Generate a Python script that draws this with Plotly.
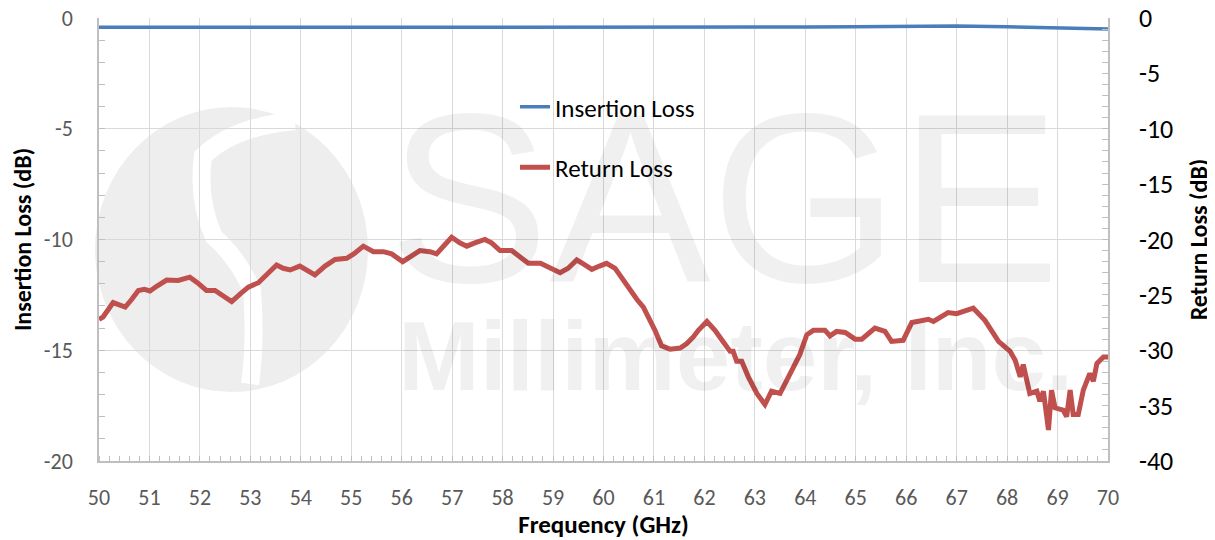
import plotly.graph_objects as go

# ---------------- data ----------------
il_freq = [50, 51, 52, 53, 54, 55, 56, 57, 58, 59, 60, 61, 62, 63, 64, 65, 66, 67, 68, 69, 70]
il_db = [-0.42, -0.42, -0.42, -0.41, -0.40, -0.40, -0.40, -0.40, -0.41, -0.41, -0.42,
         -0.42, -0.43, -0.43, -0.41, -0.39, -0.36, -0.36, -0.40, -0.45, -0.50]

rl_freq = [50.00, 50.08, 50.28, 50.40, 50.52, 50.65, 50.78, 50.90, 51.01, 51.15, 51.34, 51.57,
           51.80, 51.95, 52.13, 52.30, 52.45, 52.63, 52.80, 52.96, 53.16, 53.35, 53.52, 53.65,
           53.79, 53.98, 54.13, 54.28, 54.48, 54.68, 54.91, 55.05, 55.24, 55.44, 55.64, 55.80,
           56.02, 56.16, 56.36, 56.56, 56.69, 56.85, 56.99, 57.15, 57.29, 57.45, 57.65, 57.78,
           57.95, 58.18, 58.35, 58.51, 58.75, 58.95, 59.14, 59.30, 59.47, 59.60, 59.77, 59.92,
           60.06, 60.23, 60.38, 60.53, 60.66, 60.79, 60.90, 61.02, 61.15, 61.32, 61.52, 61.65,
           61.78, 61.88, 62.05, 62.21, 62.35, 62.51, 62.57, 62.64, 62.74, 62.87, 63.04, 63.20,
           63.33, 63.50, 63.70, 63.89, 64.03, 64.16, 64.39, 64.49, 64.62, 64.79, 64.99, 65.12,
           65.38, 65.58, 65.71, 65.94, 66.11, 66.27, 66.44, 66.54, 66.67, 66.83, 67.00, 67.17,
           67.33, 67.56, 67.83, 68.06, 68.16, 68.26, 68.32, 68.45, 68.59, 68.65, 68.72, 68.82,
           68.88, 68.95, 69.11, 69.18, 69.25, 69.31, 69.41, 69.51, 69.64, 69.71, 69.78, 69.91,
           70.00]
rl_db = [-27.2, -27.0, -25.7, -25.9, -26.1, -25.4, -24.6, -24.5, -24.65, -24.2, -23.66, -23.7,
         -23.4, -23.9, -24.6, -24.6, -25.1, -25.6, -24.9, -24.3, -23.9, -23.1, -22.3, -22.6,
         -22.75, -22.4, -22.8, -23.2, -22.4, -21.8, -21.7, -21.3, -20.6, -21.1, -21.1, -21.3,
         -22.0, -21.55, -21.0, -21.1, -21.3, -20.5, -19.8, -20.3, -20.6, -20.3, -20.0, -20.3,
         -21.0, -21.0, -21.6, -22.15, -22.15, -22.6, -23.0, -22.6, -21.85, -22.2, -22.7, -22.4,
         -22.15, -22.6, -23.6, -24.7, -25.4, -26.1, -27.0, -28.2, -29.6, -29.9, -29.8, -29.4,
         -28.8, -28.2, -27.4, -28.2, -29.1, -30.1, -30.1, -31.0, -31.0, -32.4, -33.9, -34.9,
         -33.7, -33.9, -32.1, -30.4, -28.6, -28.2, -28.2, -28.7, -28.3, -28.4, -29.0, -29.0,
         -28.0, -28.3, -29.2, -29.1, -27.5, -27.3, -27.2, -27.4, -27.0, -26.6, -26.7, -26.5,
         -26.2, -27.3, -29.2, -30.1, -30.9, -32.4, -31.3, -33.9, -33.7, -34.6, -33.7, -37.2,
         -33.6, -35.2, -35.4, -36.0, -33.6, -35.8, -35.8, -33.6, -32.1, -32.8, -31.2, -30.6,
         -30.6]

x_ticks = list(range(50, 71))
left_ticks = [0, -5, -10, -15, -20]
right_ticks = [0, -5, -10, -15, -20, -25, -30, -35, -40]

# ---------------- layout geometry (page pixels) ----------------
PAGE_W, PAGE_H = 1215, 540
OFF = 8                      # default body margin of the html page
W, H = PAGE_W - OFF, PAGE_H - OFF
L, R, T, B = 99, 1108, 18, 461   # plot area in page pixels


def px(xp):
    return (xp - L) / (R - L)


def py(yp):
    return 1 - (yp - T) / (B - T)


TICK_FONT = "Carlito, Lato, 'Liberation Sans', sans-serif"
GRID = "#d9d9d9"
AXIS = "#bfbfbf"
WM = "#eeeeee"

fig = go.Figure()
fig.add_trace(go.Scatter(x=il_freq, y=il_db, mode="lines", name="Insertion Loss",
                         line=dict(color="#4a7ebb", width=3.5), legendgroup="a",
                         yaxis="y"))
fig.add_trace(go.Scatter(x=rl_freq, y=rl_db, mode="lines", name="Return Loss",
                         line=dict(color="#c0504d", width=5), legendgroup="b",
                         yaxis="y2"))

# watermark logo (decorative background)
shapes = [
    dict(type="circle", xref="paper", yref="paper", layer="below",
         x0=px(95), x1=px(368), y0=py(392), y1=py(107),
         fillcolor=WM, line=dict(width=0)),
]
s_pts = [(295, 121), (235, 126), (203, 156), (197, 200), (214, 237), (238, 258),
         (252, 290), (256, 340), (250, 384)]
path = "M {:.4f},{:.4f}".format(px(s_pts[0][0]), py(s_pts[0][1]))
for i in range(1, len(s_pts) - 1, 2):
    a, b = s_pts[i], s_pts[i + 1]
    path += " Q {:.4f},{:.4f} {:.4f},{:.4f}".format(px(a[0]), py(a[1]), px(b[0]), py(b[1]))
shapes.append(dict(type="path", xref="paper", yref="paper", layer="below", path=path,
                   line=dict(color="white", width=18)))

annotations = [
    dict(text="SAGE", xref="paper", yref="paper", x=px(724), y=py(198),
         xanchor="center", yanchor="middle", showarrow=False,
         font=dict(family="Liberation Sans, Arial", size=242, color="rgba(0,0,0,0.06)")),
    dict(text="<b>Millimeter, Inc.</b>", xref="paper", yref="paper", x=px(735), y=py(356),
         xanchor="center", yanchor="middle", showarrow=False,
         font=dict(family="Liberation Sans, Arial", size=98, color="rgba(0,0,0,0.06)")),
]

fig.update_layout(
    width=W, height=H,
    margin=dict(l=L - OFF, r=W - (R - OFF), t=T - OFF, b=H - (B - OFF), pad=0,
                autoexpand=False),
    paper_bgcolor="white", plot_bgcolor="rgba(0,0,0,0)",
    shapes=shapes, annotations=annotations,
    showlegend=True,
    legend=dict(x=px(515), y=py(84), xanchor="left", yanchor="top",
                bgcolor="rgba(0,0,0,0)", traceorder="grouped", tracegroupgap=25,
                font=dict(family=TICK_FONT, size=25, color="black")),
    xaxis=dict(range=[50, 70], tickvals=x_ticks, ticktext=[str(v) for v in x_ticks],
               automargin=False,
               showgrid=True, gridcolor=GRID, gridwidth=1, zeroline=False,
               showline=True, linecolor=AXIS, linewidth=1.5,
               ticks="", ticklabelstandoff=16,
               minor=dict(dtick=0.2, ticks="inside", ticklen=5, tickcolor=AXIS,
                          showgrid=False),
               tickfont=dict(family=TICK_FONT, size=22, color="#595959"),
               title=dict(text="<b>Frequency (GHz)</b>", standoff=8,
                          font=dict(family=TICK_FONT, size=25, color="black"))),
    yaxis=dict(range=[-20, 0], tickvals=left_ticks, ticktext=[str(v) for v in left_ticks],
               automargin=False, ticklabeloverflow="allow",
               showgrid=True, gridcolor=GRID, gridwidth=1, zeroline=False,
               showline=True, linecolor=AXIS, linewidth=1.5,
               ticks="inside", ticklen=6, tickcolor=AXIS, ticklabelstandoff=20,
               minor=dict(dtick=1, ticks="inside", ticklen=6, tickcolor=AXIS,
                          showgrid=False),
               tickfont=dict(family=TICK_FONT, size=22, color="#595959"),
               title=dict(text="<b>Insertion Loss (dB)</b>", standoff=10,
                          font=dict(family=TICK_FONT, size=24, color="black"))),
    yaxis2=dict(range=[-40, 0], overlaying="y", side="right", automargin=False,
                ticklabeloverflow="allow",
                tickvals=right_ticks, ticktext=[str(v) for v in right_ticks],
                showgrid=False, zeroline=False,
                showline=True, linecolor=AXIS, linewidth=1.5,
                ticks="inside", ticklen=6, tickcolor=AXIS, ticklabelstandoff=24,
                minor=dict(dtick=1, ticks="inside", ticklen=6, tickcolor=AXIS),
                tickfont=dict(family=TICK_FONT, size=26, color="black"),
                title=dict(text="<b>Return Loss (dB)</b>", standoff=18,
                           font=dict(family=TICK_FONT, size=24, color="black"))),
)

fig.write_html("out.html")
